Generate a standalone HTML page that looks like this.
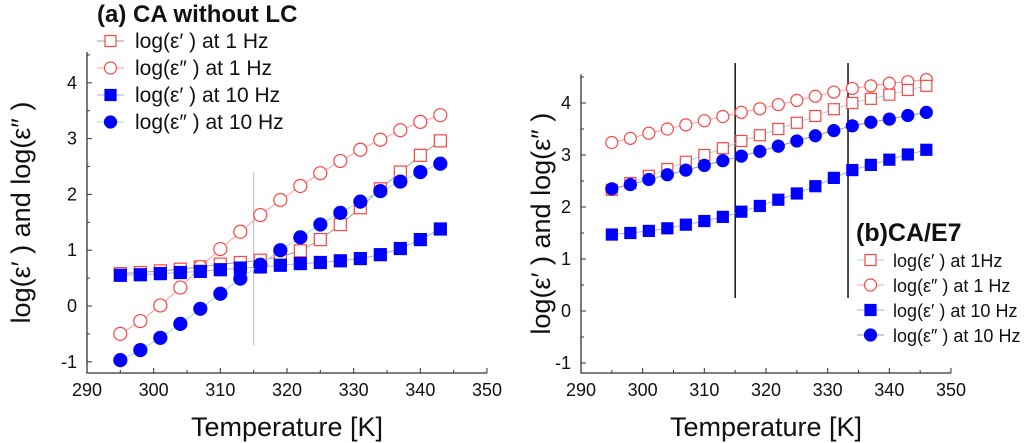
<!DOCTYPE html>
<html><head><meta charset="utf-8"><style>
body{margin:0;background:#fff;}
svg{display:block;font-family:"Liberation Sans",Arial,sans-serif;}
</style></head><body>
<svg id="c" width="1024" height="443"></svg>
<script>
const NS="http://www.w3.org/2000/svg";
const svg=document.getElementById('c');
const tempsA=[295,298,301,304,307,310,313,316,319,322,325,328,331,334,337,340,343];
const a_ep1=[0.58,0.6,0.63,0.66,0.7,0.75,0.78,0.82,0.88,0.99,1.19,1.46,1.76,2.1,2.4,2.7,2.96];
const a_epp1=[-0.5,-0.27,0.01,0.33,0.7,1.02,1.33,1.63,1.9,2.15,2.38,2.6,2.8,2.98,3.15,3.3,3.42];
const a_ep10=[0.55,0.56,0.58,0.6,0.62,0.65,0.68,0.7,0.73,0.76,0.78,0.81,0.85,0.92,1.03,1.19,1.38];
const a_epp10=[-0.97,-0.79,-0.57,-0.32,-0.05,0.22,0.49,0.74,1.0,1.23,1.46,1.67,1.87,2.06,2.23,2.4,2.55];
const tempsB=[295,298,301,304,307,310,313,316,319,322,325,328,331,334,337,340,343,346];
const b_epp1=[3.24,3.32,3.42,3.5,3.58,3.66,3.74,3.82,3.89,3.97,4.05,4.13,4.21,4.28,4.33,4.38,4.41,4.45];
const b_ep1=[2.33,2.46,2.6,2.73,2.87,3.0,3.13,3.27,3.38,3.5,3.62,3.75,3.88,4.0,4.08,4.16,4.25,4.33];
const b_epp10=[2.35,2.43,2.53,2.62,2.71,2.8,2.89,2.98,3.07,3.17,3.27,3.37,3.47,3.56,3.63,3.69,3.76,3.82];
const b_ep10=[1.47,1.5,1.54,1.59,1.66,1.73,1.81,1.91,2.02,2.14,2.26,2.4,2.56,2.71,2.81,2.91,3.01,3.1];
const xTicks=[290,300,310,320,330,340,350];
const yTicks=[-1,0,1,2,3,4];
const vlinesB=[315,333.3];

function el(t,a,p){const e=document.createElementNS(NS,t);for(const k in a)e.setAttribute(k,a[k]);(p||svg).appendChild(e);return e;}
function txt(s,a,name){const e=el('text',a);e.textContent=s;return e;}

function panel(P){
  const g=el('g',{});
  
  
  const X=v=>P.x0+(v-290)*(P.x1-P.x0)/60;
  const Y=v=>P.y0-v*P.yu;
  const top=Y(4.55), bot=P.axisY;
  const ax=el('path',{d:`M${P.x0} ${top}V${bot}H${P.x1}`,stroke:'#333',fill:'none','stroke-width':1.3},g);
  
  
  xTicks.forEach(t=>{
    el('line',{x1:X(t),x2:X(t),y1:bot,y2:bot-5,stroke:'#333'},g);
    if(t<350) el('line',{x1:X(t+5),x2:X(t+5),y1:bot,y2:bot-3,stroke:'#333'},g);
    txt(String(t),{x:X(t),y:bot+23,'font-size':18,'text-anchor':'middle',fill:'#111'},'x-tick-label');
  });
  yTicks.forEach(t=>{
    el('line',{x1:P.x0,x2:P.x0+5,y1:Y(t),y2:Y(t),stroke:'#333'},g);
    el('line',{x1:P.x0,x2:P.x0+3,y1:Y(t+0.5),y2:Y(t+0.5),stroke:'#333'},g);
    txt(String(t),{x:P.x0-10,y:Y(t)+6,'font-size':18,'text-anchor':'end',fill:'#111'},'y-tick-label');
  });
  txt('Temperature [K]',{x:(P.x0+P.x1)/2,y:436,'font-size':27,'text-anchor':'middle',fill:'#111'},'x-axis-title');
  txt('log(ε′ ) and log(ε″ )',{x:0,y:0,'font-size':27,'text-anchor':'middle',fill:'#111',transform:`translate(${P.ylx},${(top+bot)/2}) rotate(-90)`},'y-axis-title');
  P.vlines.forEach(v=>{const l=el('line',{x1:X(v.x),x2:X(v.x),y1:v.y1,y2:v.y2,stroke:v.c,'stroke-width':v.w},g);
    });
  P.series.forEach(s=>{
    const sg=el('g',{},g);
    
    
    el('polyline',{points:P.t.map((t,i)=>X(t)+','+Y(s.v[i])).join(' '),fill:'none',stroke:s.lc,'stroke-width':1},sg);
    P.t.forEach((t,i)=>mark(sg,s,X(t),Y(s.v[i]),P.r));
  });
}
function mark(p,s,x,y,r){
  const f=s.fill?'#0000ff':'#fff', st=s.fill?'#0000ff':'#f44';
  let m;
  if(s.sh==='sq') m=el('rect',{x:x-r+0.5,y:y-r+0.5,width:2*r-1,height:2*r-1,fill:f,stroke:st,'stroke-width':1.2},p);
  else m=el('circle',{cx:x,cy:y,r:r,fill:f,stroke:st,'stroke-width':1.2},p);
  
  
}
const S=(name,v,sh,fill,lc)=>({name,v,sh,fill,lc});
panel({name:'chart-a',x0:87,x1:487,y0:306,yu:55.8,axisY:373,ylx:30,r:6.5,t:tempsA,
  vlines:[{x:315,y1:172,y2:345,c:'#bbb',w:1}],
  series:[S('series-eps1-1hz',a_ep1,'sq',false,'#999'),S('series-eps2-1hz',a_epp1,'ci',false,'#f9a'),
          S('series-eps1-10hz',a_ep10,'sq',true,'#aaf'),S('series-eps2-10hz',a_epp10,'ci',true,'#9dd')]});
panel({name:'chart-b',x0:581,x1:951,y0:311,yu:52,axisY:373,ylx:550,r:6,t:tempsB,
  vlines:vlinesB.map(v=>({x:v,y1:63,y2:298,c:'#111',w:1.5})),
  series:[S('series-eps2-1hz',b_epp1,'ci',false,'#f9a'),S('series-eps1-1hz',b_ep1,'sq',false,'#9dd'),
          S('series-eps2-10hz',b_epp10,'ci',true,'#999'),S('series-eps1-10hz',b_ep10,'sq',true,'#aaf')]});

function legend(x,ys,items,tx,fs,name,lcs){
  const g=el('g',{});
  
  
  items.forEach((it,i)=>{
    el('line',{x1:x,x2:x+27,y1:ys[i],y2:ys[i],stroke:lcs[i]},g);
    mark(g,it,x+13.5,ys[i],6);
    txt(it.label,{x:tx,y:ys[i]+7,'font-size':fs,fill:'#111'},'legend-entry');
  });
}
txt('(a) CA without LC',{x:97,y:22,'font-size':24,'font-weight':'bold',fill:'#111'},'chart-a-title');
legend(97,[41,68,95,122],[
 {sh:'sq',fill:false,label:'log(ε′ ) at 1 Hz'},{sh:'ci',fill:false,label:'log(ε″ ) at 1 Hz'},
 {sh:'sq',fill:true,label:'log(ε′ ) at 10 Hz'},{sh:'ci',fill:true,label:'log(ε″ ) at 10 Hz'}],135,21,'legend-a',['#999','#f9a','#aaf','#9dd']);
txt('(b)CA/E7',{x:856,y:241,'font-size':25,'font-weight':'bold',fill:'#111'},'chart-b-title');
legend(857,[260,285,310,335],[
 {sh:'sq',fill:false,label:'log(ε′ ) at 1Hz'},{sh:'ci',fill:false,label:'log(ε″ ) at 1 Hz'},
 {sh:'sq',fill:true,label:'log(ε′ ) at 10 Hz'},{sh:'ci',fill:true,label:'log(ε″ ) at 10 Hz'}],893,18,'legend-b',['#9dd','#f9a','#aaf','#999']);
</script>
</body></html>
